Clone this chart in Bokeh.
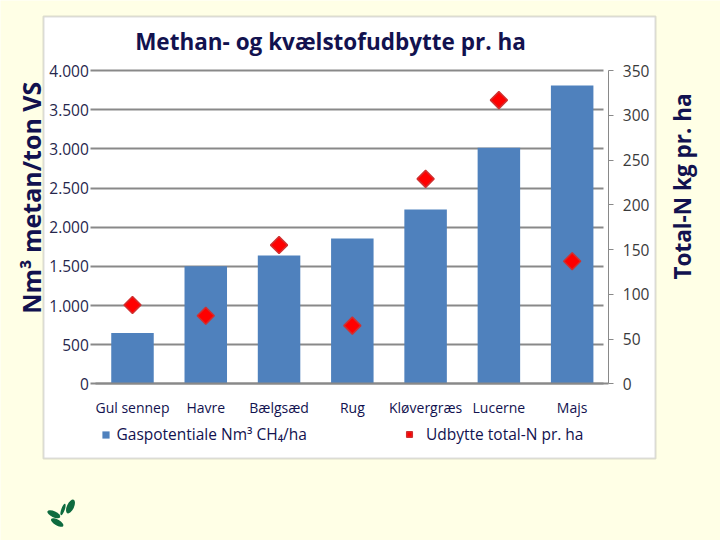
import numpy as np
from bokeh.plotting import figure
from bokeh.models import (Range1d, LinearAxis, FixedTicker, BoxAnnotation, Label,
                          Legend, LegendItem)
from bokeh.embed import file_html
from bokeh.resources import INLINE

# ---------------- data ----------------
categories = ["Gul sennep", "Havre", "Bælgsæd", "Rug", "Kløvergræs", "Lucerne", "Majs"]
gas_potential = [650, 1500, 1640, 1855, 2225, 3015, 3810]      # Nm3 CH4/ha (left axis)
n_yield = [88, 76, 155, 65, 229, 317, 137]                      # total-N kg/ha (right axis)
left_ticks = [0, 500, 1000, 1500, 2000, 2500, 3000, 3500, 4000]
left_tick_labels = ["0", "500", "1.000", "1.500", "2.000", "2.500", "3.000", "3.500", "4.000"]
right_ticks = [0, 50, 100, 150, 200, 250, 300, 350]

title_text = "Methan- og kvælstofudbytte pr. ha"
left_label = "Nm³  metan/ton VS"
right_label = "Total-N kg pr. ha"
legend_bar = "Gaspotentiale Nm³ CH₄/ha"
legend_dot = "Udbytte total-N pr. ha"

# ---------------- style / layout ----------------
CREAM = "#FFFFE6"
NAVY = "#12124F"
BLUE = "#4F81BD"
RED = "#FF0000"
GRID = "#898989"
FONT = "Open Sans"
W, H = 720, 540

# pixel geometry of the plot area (canvas pixels, y from top)
PX_LEFT, PX_RIGHT = 95.35, 608.3
PY_ZERO, PY_TOP = 383.3, 70.1
N = len(categories)
CAT_W = (PX_RIGHT - PX_LEFT) / N
LMAX, RMAX = 4000, 350

def xd(px):
    return (px - PX_LEFT) / CAT_W - 0.5

def yd(py):
    return (PY_ZERO - py) * LMAX / (PY_ZERO - PY_TOP)

def yn(py):
    return (PY_ZERO - py) * RMAX / (PY_ZERO - PY_TOP)

xs = list(range(N))

p = figure(width=W, height=H, output_backend="svg", toolbar_location=None,
           x_range=Range1d(xd(0), xd(W)), y_range=Range1d(yd(H), yd(0)),
           min_border=0, min_border_left=0, min_border_right=0,
           min_border_top=0, min_border_bottom=0,
           background_fill_color=CREAM, border_fill_color=CREAM, outline_line_color=None)
p.extra_y_ranges = {"n": Range1d(yn(H), yn(0))}
p.xgrid.visible = False
p.ygrid.visible = False

# white chart box
p.add_layout(BoxAnnotation(left=xd(43), right=xd(655), top=yd(16), bottom=yd(458),
                           fill_color="white", fill_alpha=1.0, line_color="#8C8C8C",
                           line_width=2, level="image"))

# left axis (its long inward ticks form the horizontal grid lines)
p.yaxis.visible = False
ya = LinearAxis(ticker=FixedTicker(ticks=left_ticks), fixed_location=xd(PX_LEFT),
                bounds=(0, LMAX))
ya.major_label_overrides = {t: l for t, l in zip(left_ticks, left_tick_labels)}
ya.axis_line_color = None
ya.major_tick_out = 5
ya.major_tick_in = int(604 - PX_LEFT)
ya.major_tick_line_color = GRID
ya.major_tick_line_width = 2
ya.minor_tick_line_color = None
ya.major_label_text_font = FONT
ya.major_label_text_font_size = "15.5px"
ya.major_label_text_color = "#26264C"
ya.major_label_standoff = 2
ya.level = "underlay"
p.add_layout(ya, "left")

# bars
bars = p.vbar(x=xs, top=gas_potential, width=0.58, fill_color=BLUE, line_color=None)
# diamonds
dots = p.scatter(x=xs, y=n_yield, y_range_name="n", marker="square", angle=np.pi / 4,
                 size=12, fill_color=RED, line_color="#D03030", line_width=1.5)

# right axis
ra = LinearAxis(y_range_name="n", ticker=FixedTicker(ticks=right_ticks),
                fixed_location=xd(PX_RIGHT), bounds=(0, RMAX))
ra.axis_line_color = GRID
ra.axis_line_width = 1
ra.major_tick_out = 5
ra.major_tick_in = 0
ra.major_tick_line_color = GRID
ra.minor_tick_line_color = None
ra.major_label_text_font = FONT
ra.major_label_text_font_size = "15.5px"
ra.major_label_text_color = "#3A3A3A"
ra.major_label_standoff = 9
p.add_layout(ra, "right")

# bottom axis
p.xaxis.visible = False
xa = LinearAxis(ticker=FixedTicker(ticks=xs), fixed_location=0,
                bounds=(xd(PX_LEFT), xd(PX_RIGHT)))
xa.major_label_overrides = {i: c for i, c in enumerate(categories)}
xa.axis_line_color = GRID
xa.axis_line_width = 2
xa.major_tick_line_color = None
xa.minor_tick_line_color = None
xa.major_label_text_font = FONT
xa.major_label_text_font_size = "14px"
xa.major_label_text_color = NAVY
xa.major_label_standoff = 8
p.add_layout(xa, "below")

# title and axis titles
p.add_layout(Label(x=xd(330), y=yd(41), text=title_text, text_align="center",
                   text_baseline="middle", text_font=FONT, text_font_size="22.5px",
                   text_font_style="bold", text_color=NAVY))
p.add_layout(Label(x=xd(30), y=yd(194), text=left_label, angle=np.pi / 2,
                   text_align="center", text_baseline="middle", text_font=FONT,
                   text_font_size="25px", text_font_style="bold", text_color=NAVY))
p.add_layout(Label(x=xd(682), y=yd(186), text=right_label, angle=np.pi / 2,
                   text_align="center", text_baseline="middle", text_font=FONT,
                   text_font_size="22.5px", text_font_style="bold", text_color=NAVY))

# legends
for rend, txt, gx, gs, so in [(bars, legend_bar, 105, 9, 7), (dots, legend_dot, 409, 14, 10)]:
    lg = Legend(items=[LegendItem(label=txt, renderers=[rend])],
                location=(gx - gs / 2, H - 437 - 8), orientation="horizontal",
                glyph_width=gs, glyph_height=gs, label_height=16, padding=0, margin=0,
                border_line_color=None, background_fill_alpha=0,
                label_text_font=FONT, label_text_font_size="15.5px",
                label_text_color=NAVY, label_standoff=so)
    p.add_layout(lg, "center")

# logo (small green leaves, bottom-left)
logo_px = [53.3, 56.7, 62.5, 70.0]
logo_py = [513.7, 522.0, 509.0, 506.0]
logo_len = [14, 14, 12, 15]
logo_thk = [6, 6, 3.5, 7]
logo_ang = [-25, -30, 70, 65]
p.ellipse(x=[xd(v) for v in logo_px], y=[yd(v) for v in logo_py],
          width=logo_len, height=logo_thk, width_units="screen", height_units="screen",
          angle=[np.deg2rad(a) for a in logo_ang], fill_color="#0E6B3F", line_color=None)

open("out.html", "w").write(file_html(p, INLINE))
